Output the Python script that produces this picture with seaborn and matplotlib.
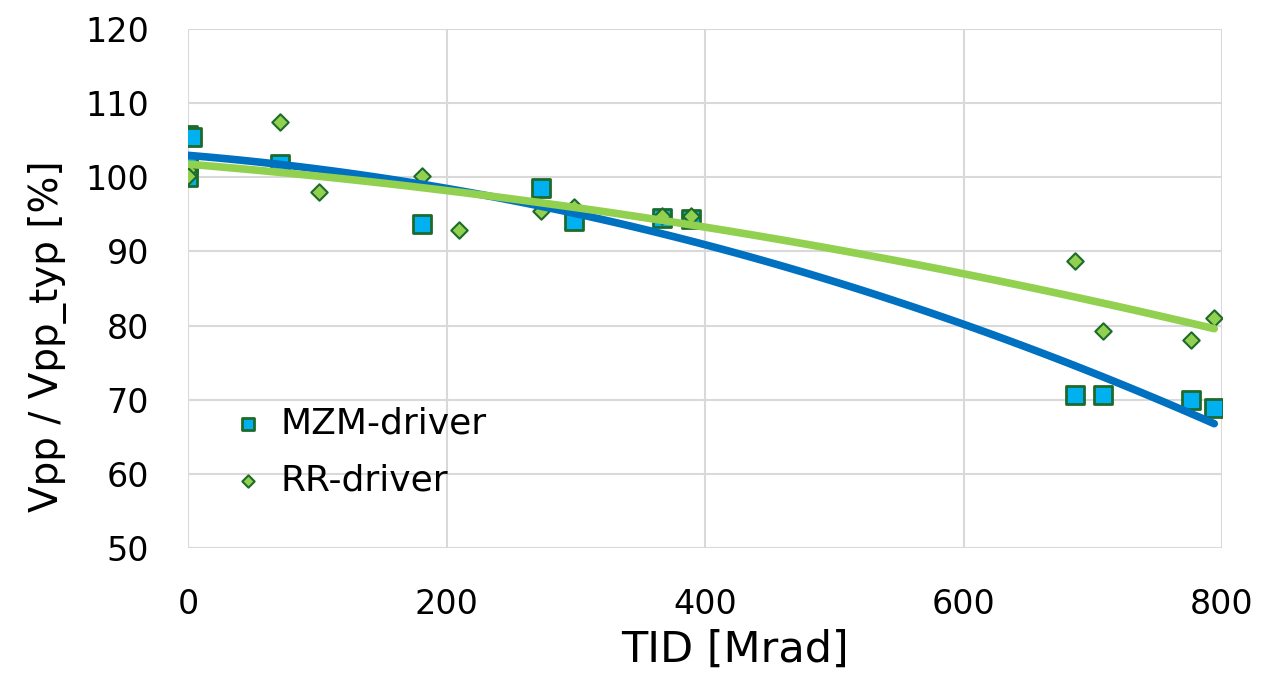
import matplotlib
matplotlib.use("Agg")
import matplotlib.pyplot as plt
import seaborn as sns
import pandas as pd

# Measured normalised swing vs. total ionising dose
mzm_tid = [0, 3, 0, 0, 71, 181, 273, 299, 367, 389, 686, 708, 776, 794]
mzm_vpp = [105.7, 105.5, 101.8, 100.0, 101.8, 93.7, 98.6, 94.1, 94.5, 94.4, 70.6, 70.6, 70.0, 68.9]

rr_tid = [0, 0, 71, 101, 181, 210, 273, 299, 367, 389, 686, 708, 776, 794]
rr_vpp = [101.0, 100.2, 107.5, 98.0, 100.2, 92.9, 95.5, 96.0, 94.8, 94.8, 88.7, 79.3, 78.1, 81.0]

x_ticks = [0, 200, 400, 600, 800]
y_ticks = [50, 60, 70, 80, 90, 100, 110, 120]

mzm = pd.DataFrame({"tid": mzm_tid, "vpp": mzm_vpp})
rr = pd.DataFrame({"tid": rr_tid, "vpp": rr_vpp})

sns.set_theme(style="whitegrid")
plt.rcParams["font.family"] = ["DejaVu Sans"]
plt.rcParams["text.color"] = "black"
plt.rcParams["axes.labelcolor"] = "black"
plt.rcParams["xtick.color"] = "black"
plt.rcParams["ytick.color"] = "black"

fig = plt.figure(figsize=(12.77, 6.74), dpi=100)
ax = fig.add_axes([188 / 1277, 1 - 548 / 674, (1222 - 188) / 1277, (548 - 29) / 674])

edge = "#1D6B2A"
sns.scatterplot(data=mzm, x="tid", y="vpp", ax=ax, marker="s", s=150,
                color="#00B0F0", edgecolor=edge, linewidth=2, label="MZM-driver", zorder=3)
sns.scatterplot(data=rr, x="tid", y="vpp", ax=ax, marker="D", s=70,
                color="#92D050", edgecolor=edge, linewidth=1.5, label="RR-driver", zorder=3)

# Second-order trend lines
sns.regplot(data=mzm, x="tid", y="vpp", order=2, ci=None, scatter=False, ax=ax,
            line_kws={"color": "#0070C0", "lw": 5.5, "solid_capstyle": "round", "zorder": 4})
sns.regplot(data=rr, x="tid", y="vpp", order=2, ci=None, scatter=False, ax=ax,
            line_kws={"color": "#92D050", "lw": 5.5, "solid_capstyle": "round", "zorder": 4})

ax.set_xlim(0, 800)
ax.set_ylim(50, 120)
ax.set_xticks(x_ticks)
ax.set_yticks(y_ticks)
ax.grid(True, color="#D9D9D9", lw=1.5)
for s in ax.spines.values():
    s.set_visible(False)
ax.tick_params(axis="both", labelsize=24, length=0)
ax.tick_params(axis="x", pad=29)
ax.tick_params(axis="y", pad=28)
ax.set_xlabel("TID [Mrad]", fontsize=31)
ax.set_ylabel("Vpp / Vpp_typ [%]", fontsize=28)
ax.xaxis.set_label_coords(0.529, -0.155)
ax.yaxis.set_label_coords(-0.117, 0.408)

leg = ax.legend(loc="center left", bbox_to_anchor=(0.044, 0.185), frameon=False,
                fontsize=26, handlelength=0.8, handletextpad=0.5, labelspacing=0.62,
                borderpad=0, borderaxespad=0, markerscale=0.75)

fig.savefig("out.png", dpi=100)
